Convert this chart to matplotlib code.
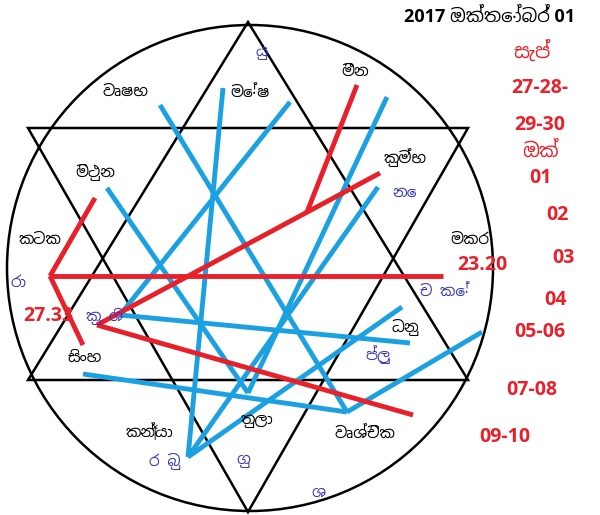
import matplotlib
matplotlib.use("Agg")
import matplotlib.pyplot as plt
from matplotlib.patches import Circle, Polygon

# chart geometry data (pixel space of the chart)
circle_center = (250, 268)
circle_radius = 243
tri_up = [(248, 22), (28, 380), (468, 380)]
tri_down = [(28, 128), (468, 128), (248, 512)]

red_lines = [
    [(357, 85), (307, 212)],
    [(97, 325), (380, 173)],
    [(97, 325), (413, 415)],
    [(50, 276), (443, 276)],
    [(50, 276), (95, 198)],
    [(50, 276), (83, 345)],
]
blue_lines = [
    [(107, 188), (248, 393)],
    [(160, 105), (347, 412)],
    [(223, 88), (188, 457)],
    [(290, 102), (120, 315)],
    [(387, 97), (248, 393)],
    [(378, 187), (188, 457)],
    [(402, 307), (188, 457)],
    [(482, 332), (347, 412)],
    [(120, 315), (410, 343)],
    [(83, 374), (347, 412)],
]

sign_labels = ["වෘෂභ", "මේෂ", "මීන", "කුම්භ", "මිථුන", "කටක", "මකර", "සිංහ", "ධනු", "කන්‍යා", "තුලා", "වෘශ්චික"]
sign_pos = [(125, 92), (250, 93), (355, 72), (405, 158), (95, 172), (40, 240),
            (470, 240), (85, 358), (405, 328), (150, 432), (257, 420), (365, 434)]
planet_labels = ["යු", "නෙ", "රා", "කු ශි", "ච කේ", "ප්ලු", "ර බු", "ගු", "ශ"]
planet_pos = [(262, 52), (405, 193), (18, 283), (105, 316), (445, 292), (378, 355),
              (165, 462), (243, 460), (318, 493)]
deg_labels = ["27.33", "23.20"]
deg_pos = [(48, 316), (482, 265)]
title = "2017 ඔක්තෝබර් 01"
date_labels = ["සැප්", "27-28-", "29-30", "ඔක්", "01", "02", "03", "04", "05-06", "07-08", "09-10"]
date_pos = [(532, 52), (540, 88), (540, 125), (540, 152), (540, 178), (557, 215),
            (563, 258), (555, 300), (540, 332), (532, 390), (505, 437)]

plt.rcParams['font.family'] = ['Noto Sans Sinhala', 'DejaVu Sans']
boldfam = ['Open Sans', 'Noto Sans Sinhala', 'DejaVu Sans']
fig = plt.figure(figsize=(6, 5.15), dpi=100)
ax = fig.add_axes([0, 0, 1, 1])
ax.set_xlim(0, 600)
ax.set_ylim(515, 0)
ax.axis('off')

ax.add_patch(Circle(circle_center, circle_radius, fill=False, ec='black', lw=1.8))
ax.add_patch(Polygon(tri_up, closed=True, fill=False, ec='black', lw=1.8))
ax.add_patch(Polygon(tri_down, closed=True, fill=False, ec='black', lw=1.8))

for seg in blue_lines:
    xs, ys = zip(*seg)
    ax.plot(xs, ys, color='#1ba1e2', lw=3.5, solid_capstyle='butt')
for seg in red_lines:
    xs, ys = zip(*seg)
    ax.plot(xs, ys, color='#e8202a', lw=3.5, solid_capstyle='butt')

for t, (x, y) in zip(sign_labels, sign_pos):
    ax.text(x, y, t, color='black', fontsize=11, ha='center', va='center')
for t, (x, y) in zip(planet_labels, planet_pos):
    ax.text(x, y, t, color='#3b3bc0', fontsize=11, ha='center', va='center')
for t, (x, y) in zip(deg_labels, deg_pos):
    ax.text(x, y, t, color='#e8202a', fontsize=14, fontweight='bold', ha='center', va='center', family=boldfam)
ax.text(490, 17, title, color='black', fontsize=13, fontweight='bold', ha='center', va='center', family=boldfam)
for t, (x, y) in zip(date_labels, date_pos):
    ax.text(x, y, t, color='#e8202a', fontsize=14, fontweight='bold', ha='center', va='center', family=boldfam)

fig.savefig('out.png', dpi=100, facecolor='white')
